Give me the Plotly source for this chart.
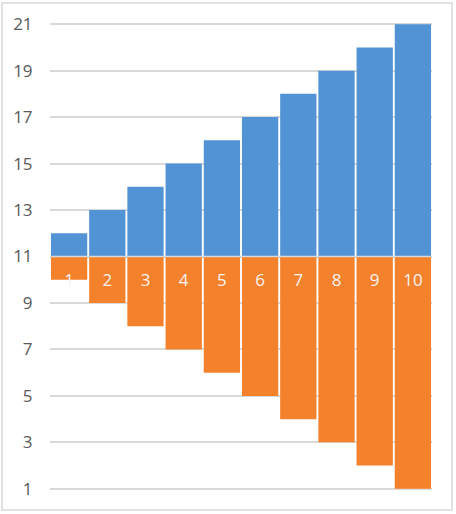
import plotly.graph_objects as go

categories = ["1", "2", "3", "4", "5", "6", "7", "8", "9", "10"]
upper_values = [12, 13, 14, 15, 16, 17, 18, 19, 20, 21]
lower_values = [10, 9, 8, 7, 6, 5, 4, 3, 2, 1]
base_value = 11
y_ticks = [1, 3, 5, 7, 9, 11, 13, 15, 17, 19, 21]

BLUE = "#5293D6"
ORANGE = "#F4812B"
GRID = "#d9d9d9"

fig = go.Figure()
fig.add_trace(go.Bar(
    x=categories, y=[v - base_value for v in upper_values], base=base_value,
    marker=dict(color=BLUE, line=dict(width=0)), hoverinfo="skip",
))
fig.add_trace(go.Bar(
    x=categories, y=[v - base_value for v in lower_values], base=base_value,
    marker=dict(color=ORANGE, line=dict(width=0)), hoverinfo="skip",
))
# category labels sit just under the crossing axis, in white
fig.add_trace(go.Scatter(
    x=categories, y=[base_value - 1.1] * len(categories), mode="text",
    text=categories, textfont=dict(family="Open Sans", size=17, color="#f4f4f4"),
    hoverinfo="skip",
))

# horizontal axis line at the crossing value
fig.add_shape(type="line", xref="paper", yref="y", x0=0, x1=1,
              y0=base_value, y1=base_value, line=dict(color=GRID, width=1.5),
              layer="above")
# outer chart border
fig.add_shape(type="rect", xref="paper", yref="paper",
              x0=-0.1257, x1=1.0524, y0=-0.0428, y1=1.0428,
              line=dict(color=GRID, width=1.5), layer="below")

fig.update_layout(
    width=456, height=514,
    margin=dict(l=50, r=24, t=23, b=24),
    paper_bgcolor="white", plot_bgcolor="white",
    barmode="overlay", bargap=0.05, showlegend=False,
    font=dict(family="Open Sans", color="#595959", size=17),
)
fig.update_xaxes(showticklabels=False, showgrid=False, zeroline=False,
                 showline=False, ticks="")
fig.update_yaxes(range=[0.95, 21.05], tickvals=y_ticks, showgrid=True,
                 gridcolor=GRID, gridwidth=1.5, zeroline=False, showline=False,
                 ticks="outside", ticklen=13, tickcolor="rgba(0,0,0,0)",
                 tickfont=dict(size=17, color="#595959"))

fig.write_html("out.html", config={"displayModeBar": False},
               post_script="document.body.style.margin='0';")
